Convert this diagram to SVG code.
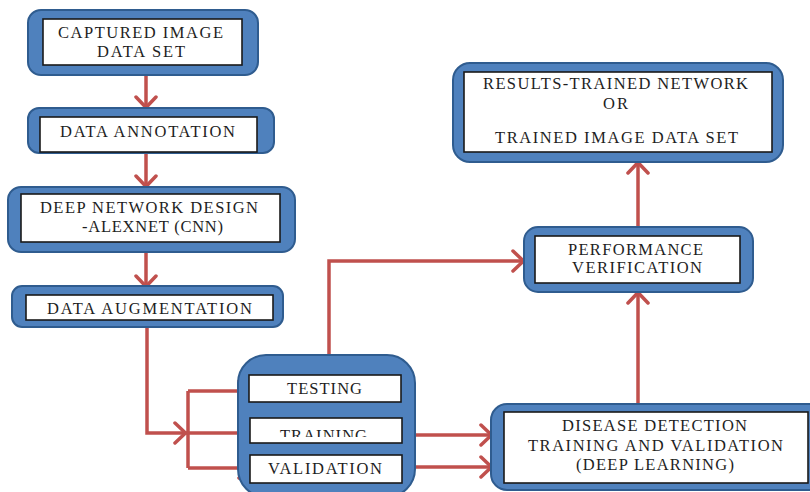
<svg xmlns="http://www.w3.org/2000/svg" width="810" height="492" viewBox="0 0 810 492">
<defs>
<style>
.outer{fill:#4F81BD;stroke:#2F5C8F;stroke-width:2}
.inner{fill:#FFFFFF;stroke:#1A1A1A;stroke-width:1.6}
.t{font-family:"Liberation Serif","Times New Roman",serif;font-size:16.5px;fill:#1E1E1E;text-anchor:start}
.c{fill:none;stroke:#C0504D;stroke-width:3.5}
</style>
<marker id="ah" viewBox="0 0 14 24" refX="13" refY="12" markerWidth="14" markerHeight="24" markerUnits="userSpaceOnUse" orient="auto">
<path d="M2,2 L12.5,12 L2,22" fill="none" stroke="#C0504D" stroke-width="3.5" stroke-linecap="round" stroke-linejoin="round"/>
</marker>
<clipPath id="trainclip"><rect x="250" y="418" width="152" height="19"/></clipPath>
</defs>
<rect width="810" height="492" fill="#FFFFFF"/>

<g id="connectors">
<path class="c" d="M146,66 V108" marker-end="url(#ah)"/>
<path class="c" d="M146,153 V187" marker-end="url(#ah)"/>
<path class="c" d="M146,252 V287" marker-end="url(#ah)"/>
<path class="c" d="M147,327 V433 H186" marker-end="url(#ah)"/>
<path class="c" d="M186,433 H250" marker-end="url(#ah)"/>
<path class="c" d="M188,391 V468"/>
<path class="c" d="M188,391 H250" marker-end="url(#ah)"/>
<path class="c" d="M188,468 H250" marker-end="url(#ah)"/>
<path class="c" d="M329,356 V261 H524" marker-end="url(#ah)"/>
<path class="c" d="M401,435 H492" marker-end="url(#ah)"/>
<path class="c" d="M401,467 H492" marker-end="url(#ah)"/>
<path class="c" d="M638,405 V292" marker-end="url(#ah)"/>
<path class="c" d="M638,228 V162" marker-end="url(#ah)"/>
</g>

<g id="captured">
<rect class="outer" x="28" y="10" width="230" height="65" rx="13"/>
<rect class="inner" x="43" y="19" width="199" height="46"/>
<text class="t" x="58" y="38" textLength="165" lengthAdjust="spacing">CAPTURED IMAGE</text>
<text class="t" x="97" y="57" textLength="88" lengthAdjust="spacing">DATA SET</text>
</g>

<g id="annotation">
<rect class="outer" x="28" y="108" width="246" height="45" rx="11"/>
<rect class="inner" x="40" y="117" width="217" height="35"/>
<text class="t" x="60" y="137" textLength="175" lengthAdjust="spacing">DATA ANNOTATION</text>
</g>

<g id="deepnet">
<rect class="outer" x="8" y="187" width="287" height="65" rx="13"/>
<rect class="inner" x="21" y="194" width="259" height="48"/>
<text class="t" x="40" y="213" textLength="218" lengthAdjust="spacing">DEEP NETWORK DESIGN</text>
<text class="t" x="82" y="232" textLength="141" lengthAdjust="spacing">-ALEXNET (CNN)</text>
</g>

<g id="augmentation">
<rect class="outer" x="12" y="286" width="271" height="41" rx="10"/>
<rect class="inner" x="26" y="295" width="247" height="25"/>
<text class="t" x="47" y="314" textLength="205" lengthAdjust="spacing">DATA AUGMENTATION</text>
</g>

<g id="split">
<rect class="outer" x="238" y="355" width="177" height="142" rx="28"/>
<g id="testing">
<rect class="inner" x="249" y="375" width="152" height="27"/>
<text class="t" x="287" y="394" textLength="75" lengthAdjust="spacing">TESTING</text>
</g>
<g id="training">
<rect class="inner" x="250" y="418" width="152" height="25"/>
<text class="t" x="280" y="441" textLength="87" lengthAdjust="spacing" clip-path="url(#trainclip)">TRAINING</text>
</g>
<g id="validation">
<rect class="inner" x="250" y="455" width="152" height="28"/>
<text class="t" x="268" y="474" textLength="114" lengthAdjust="spacing">VALIDATION</text>
</g>
</g>

<g id="disease">
<rect class="outer" x="491" y="404" width="335" height="86" rx="16"/>
<rect class="inner" x="504" y="412" width="304" height="71"/>
<text class="t" x="562" y="431" textLength="185" lengthAdjust="spacing">DISEASE DETECTION</text>
<text class="t" x="528" y="451" textLength="255" lengthAdjust="spacing">TRAINING AND VALIDATION</text>
<text class="t" x="576" y="470" textLength="158" lengthAdjust="spacing">(DEEP LEARNING)</text>
</g>

<g id="performance">
<rect class="outer" x="524" y="227" width="229" height="65" rx="14"/>
<rect class="inner" x="535" y="236" width="205" height="47"/>
<text class="t" x="568" y="255" textLength="135" lengthAdjust="spacing">PERFORMANCE</text>
<text class="t" x="572" y="273" textLength="130" lengthAdjust="spacing">VERIFICATION</text>
</g>

<g id="results">
<rect class="outer" x="453" y="63" width="330" height="99" rx="17"/>
<rect class="inner" x="464" y="72" width="308" height="80"/>
<text class="t" x="483" y="89" textLength="265" lengthAdjust="spacing">RESULTS-TRAINED NETWORK</text>
<text class="t" x="603" y="109" textLength="25" lengthAdjust="spacing">OR</text>
<text class="t" x="495" y="143" textLength="243" lengthAdjust="spacing">TRAINED IMAGE DATA SET</text>
</g>
</svg>
